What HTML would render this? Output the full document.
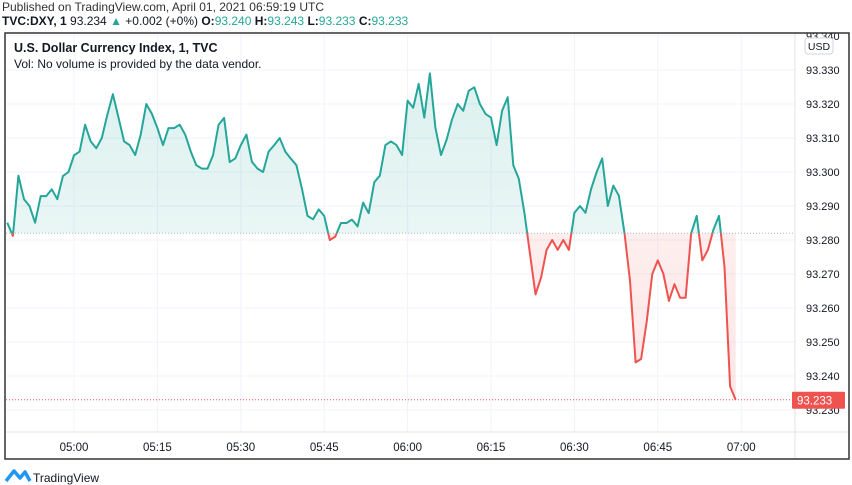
<!DOCTYPE html>
<html><head><meta charset="utf-8"><style>
body{margin:0;background:#fff;width:852px;height:485px;overflow:hidden;font-family:"Liberation Sans",sans-serif;}
svg{position:absolute;left:0;top:0;}
</style></head><body>
<svg width="852" height="485" id="chart">
<defs>
<linearGradient id="gUp" x1="0" y1="0" x2="0" y2="1"><stop offset="0" stop-color="#26a69a" stop-opacity="0.16"/><stop offset="1" stop-color="#26a69a" stop-opacity="0.04"/></linearGradient>
<linearGradient id="gDn" x1="0" y1="0" x2="0" y2="1"><stop offset="0" stop-color="#ef5350" stop-opacity="0.06"/><stop offset="1" stop-color="#ef5350" stop-opacity="0.14"/></linearGradient>
</defs>
<text x="2" y="11" font-size="12" fill="#333">Published on TradingView.com, April 01, 2021 06:59:19 UTC</text>
<text x="2" y="25" font-size="12" fill="#131722"><tspan font-weight="bold">TVC:DXY, 1</tspan> 93.234 <tspan fill="#26a69a">▲</tspan> +0.002 (+0%) <tspan font-weight="bold">O:</tspan><tspan fill="#26a69a">93.240</tspan> <tspan font-weight="bold">H:</tspan><tspan fill="#26a69a">93.243</tspan> <tspan font-weight="bold">L:</tspan><tspan fill="#26a69a">93.233</tspan> <tspan font-weight="bold">C:</tspan><tspan fill="#26a69a">93.233</tspan></text>
<g id="grid"></g>
<g id="series"></g>
<line x1="6" y1="432" x2="849" y2="432" stroke="#e0e3eb"/>
<line x1="795" y1="33" x2="795" y2="459" stroke="#e0e3eb"/>
<g id="axes"></g>
<rect x="5" y="33" width="844" height="426" fill="none" stroke="#333" stroke-width="1.5"/>
<text x="14" y="52" font-size="12.5" font-weight="bold" fill="#131722">U.S. Dollar Currency Index, 1, TVC</text>
<text x="14" y="68" font-size="12" fill="#131722">Vol: No volume is provided by the data vendor.</text>
<rect x="805" y="38" width="28" height="16" rx="3" fill="#fff" stroke="#d1d4dc"/>
<text x="819" y="50" font-size="10.5" text-anchor="middle" fill="#131722">USD</text>
<g>
<path d="M6 481 L14 471 L20 478 L25 472 L30 481" fill="none" stroke="#2196f3" stroke-width="3.5" stroke-linejoin="round"/>
<text x="33" y="482" font-size="12" fill="#131722">TradingView</text>
</g>
</svg>
<script>
const startMinute = 4*60+48;
const priceTicks = [93.340,93.330,93.320,93.310,93.300,93.290,93.280,93.270,93.260,93.250,93.240,93.230];
const timeTicks = ["05:00","05:15","05:30","05:45","06:00","06:15","06:30","06:45","07:00"];
const baseline = 93.282;
const lastPrice = 93.233;
const closes = [93.2851,93.2812,93.2989,93.2920,93.2900,93.2851,93.2929,93.2929,93.2949,93.2920,93.2988,93.3000,93.3049,93.3060,93.3139,93.3090,93.3070,93.3100,93.3169,93.3229,93.3160,93.3090,93.3079,93.3050,93.3110,93.3200,93.3171,93.3129,93.3079,93.3129,93.3129,93.3139,93.3110,93.3060,93.3020,93.3010,93.3010,93.3049,93.3139,93.3159,93.3029,93.3040,93.3079,93.3110,93.3030,93.3010,93.3000,93.3060,93.3079,93.3100,93.3060,93.3039,93.3020,93.2950,93.2871,93.2861,93.2890,93.2871,93.2800,93.2810,93.2850,93.2850,93.2860,93.2840,93.2910,93.2879,93.2970,93.2989,93.3079,93.3090,93.3079,93.3050,93.3210,93.3189,93.3259,93.3160,93.3290,93.3130,93.3050,93.3094,93.3155,93.3200,93.3180,93.3239,93.3249,93.3200,93.3171,93.3160,93.3079,93.3180,93.3220,93.3020,93.2980,93.2880,93.2761,93.2640,93.2690,93.2771,93.2800,93.2771,93.2800,93.2771,93.2880,93.2900,93.2880,93.2950,93.3000,93.3040,93.2900,93.2960,93.2930,93.2820,93.2680,93.2440,93.2450,93.2560,93.2700,93.2740,93.2700,93.2621,93.2670,93.2630,93.2630,93.2820,93.2871,93.2740,93.2771,93.2830,93.2871,93.2721,93.2369,93.2330];

const NS="http://www.w3.org/2000/svg";
function X(i){return 7.3 + i*5.56;}
function Y(v){return 70 + (93.330 - v)*3400;}
function mk(tag,attrs,parent){const e=document.createElementNS(NS,tag);for(const k in attrs)e.setAttribute(k,attrs[k]);parent.appendChild(e);return e;}
const grid=document.getElementById('grid'), series=document.getElementById('series'), axes=document.getElementById('axes');
priceTicks.forEach(p=>{
  const y=Y(p);
  const l=mk('line',{x1:6,x2:795,y1:y,y2:y,stroke:'#f0f3fa'},grid);
  
  
  const t=mk('text',{x:806,y:y+4,'font-size':11,fill:'#131722'},axes);
  t.textContent=p.toFixed(3);
  
  
});
timeTicks.forEach(s=>{
  const [h,m]=s.split(':').map(Number);
  const x=X(h*60+m-startMinute);
  const l=mk('line',{x1:x,x2:x,y1:34,y2:432,stroke:'#f0f3fa'},grid);
  
  
  const t=mk('text',{x:x,y:451,'font-size':11.5,fill:'#131722','text-anchor':'middle'},axes);
  t.textContent=s;
  
  
});
const by=Y(baseline);
const defs=document.querySelector('defs');
const cu=mk('clipPath',{id:'cUp'},defs); mk('rect',{x:0,y:0,width:852,height:by},cu);
const cd=mk('clipPath',{id:'cDn'},defs); mk('rect',{x:0,y:by,width:852,height:485-by},cd);
const pts=closes.map((v,i)=>X(i).toFixed(1)+','+Y(v).toFixed(1));
const areaD='M'+X(0)+','+by+' L'+pts.join(' L')+' L'+X(closes.length-1)+','+by+' Z';
const fu=mk('path',{d:areaD,fill:'url(#gUp)','clip-path':'url(#cUp)'},series);


const fd=mk('path',{d:areaD,fill:'url(#gDn)','clip-path':'url(#cDn)'},series);


const bl=mk('line',{x1:6,x2:795,y1:by,y2:by,stroke:'#b2b5be','stroke-dasharray':'1,2'},series);


const lineD='M'+pts.join(' L');
const lu=mk('path',{d:lineD,fill:'none',stroke:'#26a69a','stroke-width':2,'stroke-linejoin':'round','clip-path':'url(#cUp)'},series);


const ld=mk('path',{d:lineD,fill:'none',stroke:'#ef5350','stroke-width':2,'stroke-linejoin':'round','clip-path':'url(#cDn)'},series);


const ly=Y(lastPrice);
const ll=mk('line',{x1:6,x2:795,y1:ly,y2:ly,stroke:'#ef5350','stroke-dasharray':'1,2'},series);


const lb=mk('rect',{x:792,y:ly-8,width:53,height:17,fill:'#ef5350',rx:1},axes);


const lt=mk('text',{x:797,y:ly+4.5,'font-size':11.5,fill:'#fff'},axes);
lt.textContent=lastPrice.toFixed(3);


</script>
</body></html>
